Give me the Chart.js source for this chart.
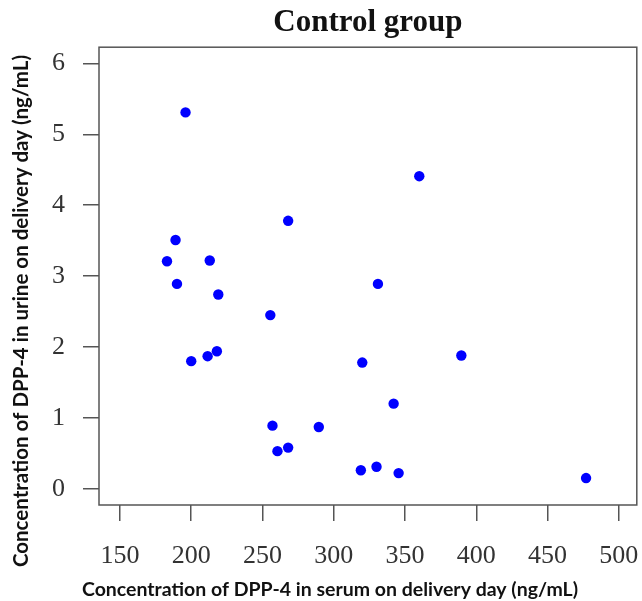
<!DOCTYPE html>
<html>
<head>
<meta charset="utf-8">
<title>Control group</title>
<script src="https://cdn.jsdelivr.net/npm/chart.js@4"></script>
<style>
  html, body { margin: 0; padding: 0; background: #fff; }
  #wrap { width: 642px; height: 601px; }
</style>
</head>
<body>
<div id="wrap"><canvas id="chart" width="642" height="601"></canvas></div>
<script>
'use strict';

// serum DPP-4 (ng/mL) vs urine DPP-4 (ng/mL), control group
let serumValues = [196, 268, 189, 183, 213, 190, 219, 255.5, 200, 211.5, 218, 257, 260.5, 268, 289.5, 360, 331, 320, 389.5, 342, 319, 330, 345.5, 477];
let urineValues = [5.31, 3.78, 3.51, 3.21, 3.22, 2.89, 2.74, 2.45, 1.80, 1.87, 1.94, 0.89, 0.53, 0.58, 0.87, 4.41, 2.89, 1.78, 1.88, 1.20, 0.26, 0.31, 0.22, 0.15];
let xTicks = [150, 200, 250, 300, 350, 400, 450, 500];
let yTicks = [0, 1, 2, 3, 4, 5, 6];

let chartTitle = 'Control group';
let xTitle = 'Concentration of DPP-4 in serum on delivery day (ng/mL)';
let yTitle = 'Concentration of DPP-4 in urine on delivery day (ng/mL)';

let points = [];
for (let i = 0; i < serumValues.length; i++) {
  points.push({ x: serumValues[i], y: urineValues[i] });
}

// box round the plot + the two axis titles (placed like the R original)
const boxAndTitles = {
  id: 'boxAndTitles',
  afterDraw(chart) {
    const ctx = chart.ctx;
    const a = chart.chartArea;
    ctx.save();
    ctx.strokeStyle = '#555';
    ctx.lineWidth = 1.5;
    ctx.strokeRect(a.left, a.top, a.right - a.left, a.bottom - a.top);

    ctx.fillStyle = '#111';
    ctx.textAlign = 'center';
    ctx.textBaseline = 'alphabetic';
    ctx.font = 'bold 19.5px Lato';
    ctx.fillText(xTitle, 330, 596);

    ctx.font = 'bold 20.5px Lato';
    ctx.translate(28, 311);
    ctx.rotate(-Math.PI / 2);
    ctx.fillText(yTitle, 0, 0);
    ctx.restore();
  }
};

const tickFont = { family: 'Liberation Serif', size: 26 };

new Chart(document.getElementById('chart'), {
  type: 'scatter',
  data: {
    datasets: [{
      data: points,
      backgroundColor: '#0000ff',
      borderWidth: 0,
      pointRadius: 5.2,
      pointHoverRadius: 5.2
    }]
  },
  options: {
    responsive: false,
    animation: false,
    layout: { padding: { left: 0, right: 4, top: 0, bottom: 0 } },
    plugins: {
      legend: { display: false },
      tooltip: { enabled: false },
      title: {
        display: true,
        fullSize: false,
        text: chartTitle,
        color: '#111',
        font: { family: 'Liberation Serif', size: 31, weight: 'bold' },
        padding: { top: 4, bottom: 6 }
      }
    },
    scales: {
      x: {
        type: 'linear',
        min: 135.3,
        max: 512.6,
        afterFit(scale) {
          scale.height = 96;
          scale.paddingLeft = 0;
          scale.paddingRight = 0;
        },
        afterBuildTicks(scale) { scale.ticks = xTicks.map(v => ({ value: v })); },
        grid: { drawOnChartArea: false, drawTicks: true, tickLength: 16, color: '#555', lineWidth: 1.5 },
        border: { display: false },
        ticks: { font: tickFont, color: '#333', padding: 20, maxRotation: 0, autoSkip: false }
      },
      y: {
        type: 'linear',
        min: -0.23,
        max: 6.23,
        afterFit(scale) {
          scale.width = 99;
          scale.paddingTop = 0;
          scale.paddingBottom = 0;
        },
        afterBuildTicks(scale) { scale.ticks = yTicks.map(v => ({ value: v })); },
        grid: { drawOnChartArea: false, drawTicks: true, tickLength: 16, color: '#555', lineWidth: 1.5 },
        border: { display: false },
        ticks: { font: tickFont, color: '#333', padding: 18, autoSkip: false }
      }
    }
  },
  plugins: [boxAndTitles]
});
</script>
</body>
</html>
